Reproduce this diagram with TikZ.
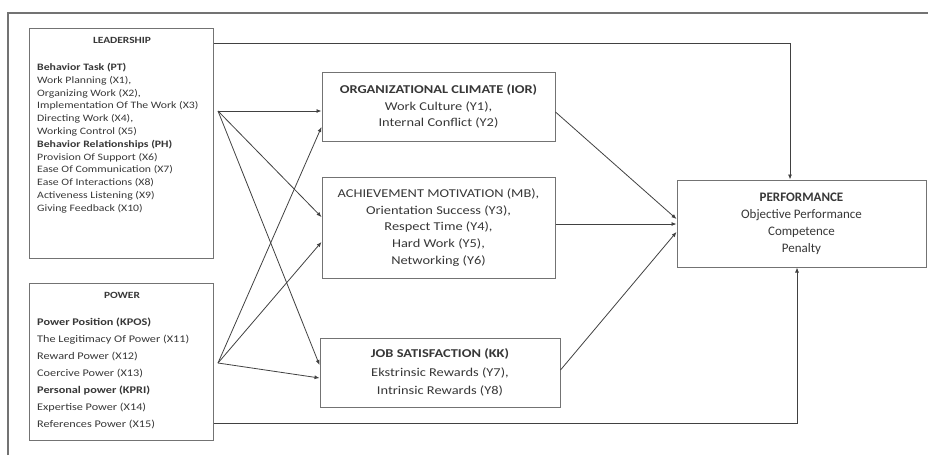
\documentclass[tikz,border=0pt]{standalone}
\usepackage{fontspec}
\setmainfont{Carlito}
\newfontfamily\widefont[FakeStretch=1.2]{Carlito}
\usepackage{tikz}
\usetikzlibrary{arrows.meta,calc}
\definecolor{cbox}{RGB}{115,115,115}
\definecolor{cline}{RGB}{65,65,65}
\definecolor{ctext}{RGB}{55,55,55}

\begin{document}
\begin{tikzpicture}[x=1pt,y=-1pt,
  var/.style={draw=cbox,line width=1pt,text=ctext,align=center,inner sep=0pt},
  head/.style={text=ctext,font=\widefont\fontsize{9.5}{11}\selectfont\bfseries,inner sep=0pt},
  items/.style={text=ctext,align=left,anchor=north west,inner sep=0pt},
  link/.style={-{Latex[length=5pt,width=4pt]},cline,line width=0.8pt},
]
\useasboundingbox (0,0) rectangle (928,455);
\draw[cbox,line width=1.5pt] (8,455) -- (8,13) -- (928,13);

% exogenous variables
\node[var,minimum width=184pt,minimum height=230pt] (lead) at (121.5,143) {};
\node[head] (leadT) at (122,40) {LEADERSHIP};
\node[items,font=\widefont\fontsize{9.8}{12.8}\selectfont] (leadL) at (37,63) {%
  \textbf{Behavior Task (PT)}\\ Work Planning (X1),\\ Organizing Work (X2),\\
  Implementation Of The Work (X3)\\ Directing Work (X4),\\ Working Control (X5)\\
  \textbf{Behavior Relationships (PH)}\\ Provision Of Support (X6)\\
  Ease Of Communication (X7)\\ Ease Of Interactions (X8)\\
  Activeness Listening (X9)\\ Giving Feedback (X10)};

\node[var,minimum width=184pt,minimum height=157pt] (pow) at (121.5,361.5) {};
\node[head] (powT) at (122,295) {POWER};
\node[items,font=\widefont\fontsize{10.2}{17}\selectfont] (powL) at (37,318) {%
  \textbf{Power Position (KPOS)}\\ The Legitimacy Of Power (X11)\\
  Reward Power (X12)\\ Coercive Power (X13)\\ \textbf{Personal power (KPRI)}\\
  Expertise Power (X14)\\ References Power (X15)};

% intervening variables
\node[var,minimum width=233pt,minimum height=69pt,font=\widefont\fontsize{12}{16.5}\selectfont] (org) at (438.5,106.5)
  {\textbf{ORGANIZATIONAL CLIMATE (IOR)}\\ Work Culture (Y1),\\ Internal Conflict (Y2)};
\node[var,minimum width=233pt,minimum height=101pt,font=\widefont\fontsize{12}{16.75}\selectfont] (ach) at (438.5,227.5)
  {ACHIEVEMENT MOTIVATION (MB),\\ Orientation Success (Y3),\\ Respect Time (Y4),\\ Hard Work (Y5),\\ Networking (Y6)};
\node[var,minimum width=240pt,minimum height=69pt,font=\widefont\fontsize{12}{18.5}\selectfont] (job) at (440,372.5)
  {\textbf{JOB SATISFACTION (KK)}\\ Ekstrinsic Rewards (Y7),\\ Intrinsic Rewards (Y8)};

% endogenous variable
\node[var,minimum width=249pt,minimum height=87pt,font=\fontsize{13}{17}\selectfont] (perf) at (801.5,223.5)
  {\textbf{PERFORMANCE}\\ Objective Performance\\ Competence\\ Penalty};

\coordinate (lhub) at (218,111);
\coordinate (phub) at (218,363);

\draw[link] (lhub) -- (org.west |- 0,111);
\draw[link] (lhub) -- (ach.west |- 0,217);
\draw[link] (lhub) -- (job.west |- 0,365);
\draw[link] (phub) -- (org.west |- 0,127);
\draw[link] (phub) -- (ach.west |- 0,242);
\draw[link] (phub) -- (job.west |- 0,378);

\draw[link] (org.east |- 0,112) -- (perf.west |- 0,219);
\draw[link] (ach.east |- 0,224) -- (perf.west |- 0,224);
\draw[link] (job.east |- 0,370) -- (perf.west |- 0,232);

\draw[link] (lead.east |- 0,43) -| (perf.north -| 790,0);
\draw[link] (pow.east |- 0,423) -| (perf.south -| 797,0);
\end{tikzpicture}
\end{document}
